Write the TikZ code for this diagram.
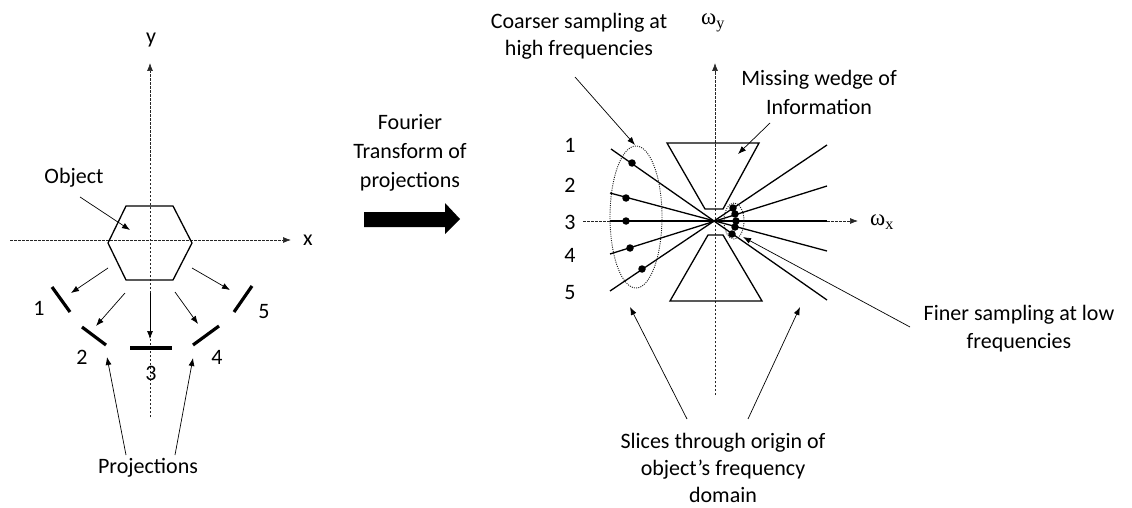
\documentclass[tikz,border=0pt]{standalone}
\usepackage{fontspec}
\setmainfont{Carlito}
\newfontfamily\greekfont{Liberation Serif}
\usetikzlibrary{arrows.meta}
\begin{document}
\begin{tikzpicture}[x=1pt,y=-1pt,
  lbl/.style={font=\fontsize{22}{28}\selectfont, inner sep=0pt, align=center},
  glbl/.style={font=\fontsize{23}{26}\selectfont\greekfont, inner sep=0pt},
  thinarrow/.style={line width=0.7pt, -{Latex[length=8pt,width=6pt]}},
  axisline/.style={black!85, line width=0.7pt, dash pattern=on 2.5pt off 1.5pt, -{Latex[length=8pt,width=6pt]}},
  projseg/.style={line width=3.2pt},
  outline/.style={line width=1.3pt, line join=miter},
  slice/.style={line width=1.3pt},
  sdot/.style={circle, fill, inner sep=0pt, minimum size=7.5pt},
  ring/.style={black!90, line width=0.9pt, dash pattern=on 1pt off 1.2pt},
]
\useasboundingbox (0,0) rectangle (1132,508);

% ---------------- left part ----------------
\coordinate (yb) at (150,417); \coordinate (yt) at (150,63);
\coordinate (xl) at (10,240);  \coordinate (xr) at (291,240);
\draw[axisline] (yb) -- (yt);
\draw[axisline] (xl) -- (xr);
\node[lbl] (ylab) at (151,40) {y};
\node[lbl] (xlab) at (308,240) {x};

\draw[outline] (126,206) -- (173,206) -- (192,243) -- (173,280) -- (126,280) -- (108,243) -- cycle;

\node[lbl] (obj) at (74,178) {Object};
\coordinate (objs) at (80,197); \coordinate (objt) at (130,230);
\draw[thinarrow] (objs) -- (objt);

% projection arrows
\coordinate (a1s) at (108,268); \coordinate (a1t) at (71,293);
\coordinate (a2s) at (125,293); \coordinate (a2t) at (96,326);
\coordinate (a3s) at (150,293); \coordinate (a3t) at (150,339);
\coordinate (a4s) at (175,292); \coordinate (a4t) at (198,324);
\coordinate (a5s) at (192,268); \coordinate (a5t) at (230,290);
\foreach \i in {1,...,5} {\draw[thinarrow] (a\i s) -- (a\i t);}

% projection segments
\coordinate (p1a) at (52,287);  \coordinate (p1b) at (70,312);
\coordinate (p2a) at (82,327);  \coordinate (p2b) at (106,345);
\coordinate (p3a) at (130,348); \coordinate (p3b) at (172,348);
\coordinate (p4a) at (193,345); \coordinate (p4b) at (219,326);
\coordinate (p5a) at (234,312); \coordinate (p5b) at (252,286);
\foreach \i in {1,...,5} {\draw[projseg] (p\i a) -- (p\i b);}

\node[lbl] (n1) at (39,308) {1};
\node[lbl] (n2) at (82,357) {2};
\node[lbl] (n3) at (151,373) {3};
\node[lbl] (n4) at (217,357) {4};
\node[lbl] (n5) at (264,312) {5};

\node[lbl] (proj) at (148,468) {Projections};
\coordinate (pls) at (126,455); \coordinate (plt) at (107,357);
\coordinate (prs) at (175,455); \coordinate (prt) at (193,358);
\draw[thinarrow] (pls) -- (plt);
\draw[thinarrow] (prs) -- (prt);

% ---------------- middle ----------------
\node[lbl, font=\fontsize{22}{29}\selectfont] (ft) at (410,153) {Fourier\\Transform of\\projections};
\fill (364,212) -- (445,212) -- (445,203) -- (460,219) -- (445,234) -- (445,227) -- (364,227) -- cycle;

% ---------------- right part ----------------
\coordinate (wyb) at (715,395); \coordinate (wyt) at (715,63);
\coordinate (wxl) at (583,221); \coordinate (wxr) at (858,221);
\draw[axisline] (wyb) -- (wyt);
\draw[axisline] (wxl) -- (wxr);
\node[glbl] (wy) at (713,23) {ω\textsubscript{y}};
\node[glbl] (wx) at (882,222) {ω\textsubscript{x}};

\draw[outline] (667,143) -- (759,143) -- (723,209) -- (705,209) -- cycle;
\draw[outline] (708,235) -- (723,235) -- (762,301) -- (670,301) -- cycle;

\coordinate (L1a) at (611,149); \coordinate (L1b) at (827,300);
\coordinate (L2a) at (610,193); \coordinate (L2b) at (827,251);
\coordinate (L3a) at (610,221); \coordinate (L3b) at (827,221);
\coordinate (L4a) at (610,254); \coordinate (L4b) at (827,186);
\coordinate (L5a) at (610,291); \coordinate (L5b) at (827,145);
\foreach \i in {1,...,5} {\draw[slice] (L\i a) -- (L\i b);}

\node[sdot] (c1) at (632,163) {};
\node[sdot] (c2) at (626,198) {};
\node[sdot] (c3) at (626,221) {};
\node[sdot] (c4) at (630,248) {};
\node[sdot] (c5) at (642,269) {};
\node[sdot] (f5) at (733,208) {};
\node[sdot] (f4) at (735,214) {};
\node[sdot] (f3) at (736,221) {};
\node[sdot] (f2) at (735,227) {};
\node[sdot] (f1) at (732,234) {};

\draw[ring] (636,217) ellipse [x radius=26, y radius=71];
\draw[ring] (734,221) ellipse [x radius=10, y radius=18];

\node[lbl] (r1) at (570,145) {1};
\node[lbl] (r2) at (570,185) {2};
\node[lbl] (r3) at (570,222) {3};
\node[lbl] (r4) at (570,255) {4};
\node[lbl] (r5) at (570,293) {5};

\node[lbl, font=\fontsize{22}{27}\selectfont] (coarse) at (579,36) {Coarser sampling at\\high frequencies};
\coordinate (cs) at (575,77); \coordinate (ct) at (635,145);
\draw[thinarrow] (cs) -- (ct);

\node[lbl, font=\fontsize{22}{29}\selectfont] (miss) at (819,92) {Missing wedge of\\Information};
\coordinate (ms) at (770,123); \coordinate (mt) at (738,154);
\draw[thinarrow] (ms) -- (mt);

\node[lbl] (finer) at (1019,329) {Finer sampling at low\\frequencies};
\coordinate (fs) at (910,327); \coordinate (ftt) at (743,237);
\draw[thinarrow] (fs) -- (ftt);

\node[lbl, font=\fontsize{22}{27}\selectfont] (slices) at (723,468) {Slices through origin of\\object’s frequency\\domain};
\coordinate (sls) at (687,419); \coordinate (slt) at (630,307);
\coordinate (srs) at (748,419); \coordinate (srt) at (800,307);
\draw[thinarrow] (sls) -- (slt);
\draw[thinarrow] (srs) -- (srt);
\end{tikzpicture}
\end{document}
